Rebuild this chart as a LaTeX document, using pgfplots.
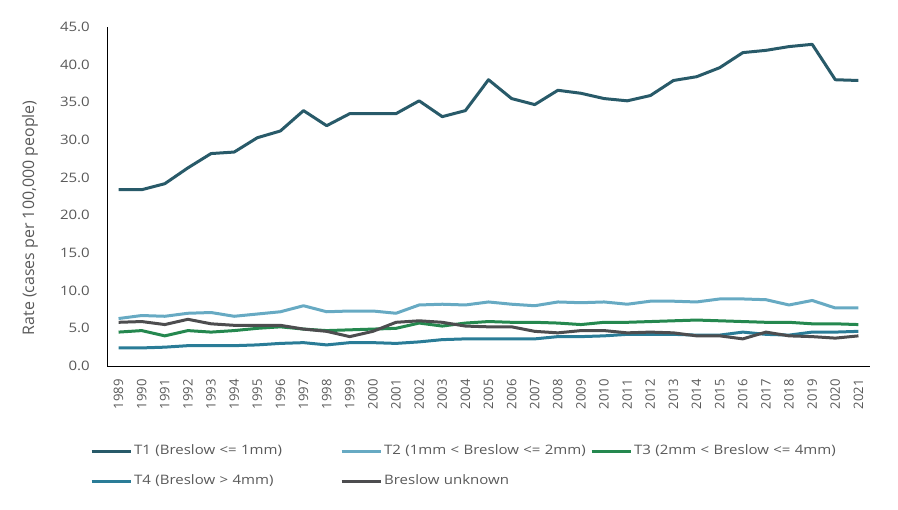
\documentclass[border=0pt]{standalone}
\usepackage{pgfplots}
\pgfplotsset{compat=1.18}
\usepackage{fontspec}
\setmainfont{Open Sans}
% slightly widened face for horizontal labels
\newfontfamily\widefont{Open Sans}[FakeStretch=1.15]

\definecolor{tone}{HTML}{285A69}
\definecolor{ttwo}{HTML}{67AAC3}
\definecolor{tthree}{HTML}{25884F}
\definecolor{tfour}{HTML}{2A7C97}
\definecolor{tunk}{HTML}{4D4D4F}
\definecolor{labelgray}{HTML}{595959}

\begin{document}
\begin{tikzpicture}
\useasboundingbox (0,0) rectangle (898bp,510bp);
\begin{axis}[
  anchor=south west, at={(107bp,144bp)},
  width=763bp, height=339bp, scale only axis,
  xmin=1988.5, xmax=2021.5,
  ymin=0, ymax=45,
  axis lines=left, axis line style={black, line width=0.9bp, -},
  xtick={1989,...,2021},
  ytick={0,5,...,45},
  major tick length=0pt,
  xticklabel style={font=\fontsize{13.1}{15}\selectfont, text=labelgray, yshift=-13bp, rotate=90, anchor=east, inner sep=0pt},
  yticklabel style={font=\widefont\fontsize{13.1}{15}\selectfont, text=labelgray, xshift=-17bp, inner sep=0pt},
  /pgf/number format/.cd, fixed, fixed zerofill, precision=1, assume math mode=true,
  /pgfplots/.cd,
  xticklabel={\pgfmathprintnumber[precision=0, fixed zerofill=false, 1000 sep={}]{\tick}},
  ylabel={Rate (cases per 100,000 people)},
  ylabel style={font=\fontsize{16}{18}\selectfont, text=labelgray, at={(axis description cs:-0.101,0.437)}, anchor=center},
  every axis plot/.append style={line width=3bp, line join=round, no marks},
  legend image code/.code={\draw[#1] (0bp,0bp) -- (39bp,0bp);},
  legend columns=3,
  legend style={
    at={(axis description cs:-0.0223,-0.232)}, anchor=north west,
    draw=none, fill=none, inner sep=0pt,
    column sep=2bp, row sep=17bp,
    font=\widefont\fontsize{13.1}{15}\selectfont, text=labelgray,
    nodes={inner sep=0pt, text width=204bp, align=left, text height=10bp, text depth=3bp},
  },
  legend cell align=left,
]
\addplot[color=tone] coordinates {
 (1989,23.4) (1990,23.4) (1991,24.2) (1992,26.3) (1993,28.2) (1994,28.4)
 (1995,30.3) (1996,31.2) (1997,33.9) (1998,31.9) (1999,33.5) (2000,33.5)
 (2001,33.5) (2002,35.2) (2003,33.1) (2004,33.9) (2005,38.0) (2006,35.5)
 (2007,34.7) (2008,36.6) (2009,36.2) (2010,35.5) (2011,35.2) (2012,35.9)
 (2013,37.9) (2014,38.4) (2015,39.6) (2016,41.6) (2017,41.9) (2018,42.4)
 (2019,42.7) (2020,38.0) (2021,37.9)};
\addlegendentry{T1 (Breslow <= 1mm)}
\addplot[color=ttwo] coordinates {
 (1989,6.3) (1990,6.7) (1991,6.6) (1992,7.0) (1993,7.1) (1994,6.6)
 (1995,6.9) (1996,7.2) (1997,8.0) (1998,7.2) (1999,7.3) (2000,7.3)
 (2001,7.0) (2002,8.1) (2003,8.2) (2004,8.1) (2005,8.5) (2006,8.2)
 (2007,8.0) (2008,8.5) (2009,8.4) (2010,8.5) (2011,8.2) (2012,8.6)
 (2013,8.6) (2014,8.5) (2015,8.9) (2016,8.9) (2017,8.8) (2018,8.1)
 (2019,8.7) (2020,7.7) (2021,7.7)};
\addlegendentry{T2 (1mm < Breslow <= 2mm)}
\addplot[color=tthree] coordinates {
 (1989,4.5) (1990,4.7) (1991,4.0) (1992,4.7) (1993,4.5) (1994,4.7)
 (1995,5.0) (1996,5.2) (1997,4.9) (1998,4.7) (1999,4.8) (2000,4.9)
 (2001,5.0) (2002,5.7) (2003,5.3) (2004,5.7) (2005,5.9) (2006,5.8)
 (2007,5.8) (2008,5.7) (2009,5.5) (2010,5.8) (2011,5.8) (2012,5.9)
 (2013,6.0) (2014,6.1) (2015,6.0) (2016,5.9) (2017,5.8) (2018,5.8)
 (2019,5.6) (2020,5.6) (2021,5.5)};
\addlegendentry{T3 (2mm < Breslow <= 4mm)}
\addplot[color=tfour] coordinates {
 (1989,2.4) (1990,2.4) (1991,2.5) (1992,2.7) (1993,2.7) (1994,2.7)
 (1995,2.8) (1996,3.0) (1997,3.1) (1998,2.8) (1999,3.1) (2000,3.1)
 (2001,3.0) (2002,3.2) (2003,3.5) (2004,3.6) (2005,3.6) (2006,3.6)
 (2007,3.6) (2008,3.9) (2009,3.9) (2010,4.0) (2011,4.2) (2012,4.2)
 (2013,4.2) (2014,4.1) (2015,4.1) (2016,4.5) (2017,4.2) (2018,4.1)
 (2019,4.5) (2020,4.5) (2021,4.6)};
\addlegendentry{T4 (Breslow > 4mm)}
\addplot[color=tunk] coordinates {
 (1989,5.8) (1990,5.9) (1991,5.5) (1992,6.2) (1993,5.6) (1994,5.4)
 (1995,5.4) (1996,5.4) (1997,4.9) (1998,4.6) (1999,3.9) (2000,4.6)
 (2001,5.8) (2002,6.0) (2003,5.8) (2004,5.3) (2005,5.2) (2006,5.2)
 (2007,4.6) (2008,4.4) (2009,4.7) (2010,4.7) (2011,4.4) (2012,4.5)
 (2013,4.4) (2014,4.0) (2015,4.0) (2016,3.6) (2017,4.5) (2018,4.0)
 (2019,3.9) (2020,3.7) (2021,4.0)};
\addlegendentry{Breslow unknown}
\end{axis}
\end{tikzpicture}
\end{document}
